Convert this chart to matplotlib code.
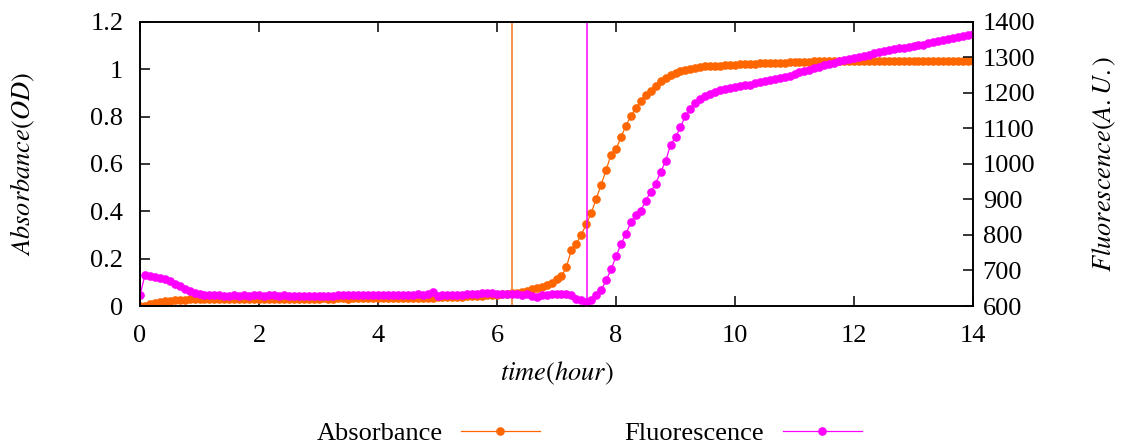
import numpy as np
import matplotlib
matplotlib.use("Agg")
import matplotlib.pyplot as plt

# readings every 5 minutes, 0 to 14 hours
interval_min = 5

absorbance = [
    0.002, 0.000, 0.008, 0.013, 0.017, 0.020, 0.022, 0.024, 0.026, 0.027, 0.028, 0.029,
    0.030, 0.030, 0.031, 0.030, 0.031, 0.031, 0.030, 0.031, 0.031, 0.031, 0.030, 0.031,
    0.031, 0.031, 0.030, 0.031, 0.031, 0.031, 0.030, 0.031, 0.031, 0.031, 0.031, 0.031,
    0.031, 0.032, 0.031, 0.031, 0.032, 0.032, 0.031, 0.032, 0.032, 0.032, 0.032, 0.032,
    0.033, 0.032, 0.033, 0.033, 0.033, 0.033, 0.033, 0.034, 0.034, 0.034, 0.034, 0.034,
    0.037, 0.038, 0.038, 0.039, 0.040, 0.040, 0.041, 0.042, 0.043, 0.044, 0.045, 0.046,
    0.047, 0.049, 0.051, 0.053, 0.056, 0.060, 0.065, 0.070, 0.076, 0.082, 0.089, 0.097,
    0.112, 0.125, 0.165, 0.238, 0.262, 0.302, 0.345, 0.393, 0.452, 0.513, 0.574, 0.640,
    0.662, 0.713, 0.762, 0.802, 0.837, 0.865, 0.890, 0.910, 0.930, 0.950, 0.965, 0.975,
    0.985, 0.992, 0.998, 1.002, 1.006, 1.009, 1.012, 1.014, 1.015, 1.016, 1.017, 1.018,
    1.020, 1.021, 1.022, 1.022, 1.024, 1.025, 1.026, 1.026, 1.027, 1.028, 1.028, 1.029,
    1.030, 1.031, 1.032, 1.033, 1.034, 1.034, 1.035, 1.035, 1.036, 1.035, 1.036, 1.035,
    1.035, 1.036, 1.035, 1.035, 1.036, 1.035, 1.035, 1.035, 1.036, 1.035, 1.035, 1.035,
    1.035, 1.035, 1.034, 1.035, 1.035, 1.035, 1.035, 1.034, 1.035, 1.035, 1.035, 1.035,
    1.035,
]

fluorescence = [
    630, 688, 684, 682, 679, 676, 670, 663, 655, 648, 642, 638,
    634, 632, 631, 630, 630, 629, 629, 630, 629, 630, 629, 630,
    630, 629, 630, 630, 629, 630, 629, 628, 629, 628, 629, 628,
    628, 629, 628, 628, 630, 630, 632, 630, 631, 630, 631, 631,
    632, 631, 632, 631, 630, 631, 632, 631, 634, 632, 633, 640,
    629, 632, 631, 632, 631, 632, 633, 634, 634, 636, 637, 636,
    634, 635, 634, 633, 634, 632, 633, 628, 624, 630, 632, 633,
    634, 635, 633, 630, 620, 616, 612, 618, 630, 645, 672, 703,
    740, 774, 803, 836, 856, 868, 897, 922, 945, 977, 1008, 1054,
    1075, 1104, 1135, 1154, 1171, 1182, 1192, 1198, 1204, 1208, 1211, 1214,
    1217, 1219, 1222, 1223, 1227, 1231, 1234, 1237, 1240, 1243, 1246, 1249,
    1253, 1258, 1262, 1266, 1270, 1274, 1278, 1282, 1285, 1289, 1293, 1296,
    1298, 1300, 1305, 1308, 1312, 1316, 1318, 1320, 1323, 1326, 1328, 1330,
    1332, 1334, 1336, 1340, 1344, 1346, 1348, 1352, 1354, 1358, 1361, 1364,
    1366,
]

# marker times (hours) for the two vertical lines
abs_onset = 6.26
fluo_onset = 7.52

time_h = np.arange(len(absorbance)) * interval_min / 60.0

plt.rcParams['font.family'] = ['Liberation Serif', 'DejaVu Serif']
plt.rcParams['mathtext.fontset'] = 'stix'
plt.rcParams['font.size'] = 19

orange = '#ff6600'
magenta = '#ff00ff'

fig = plt.figure(figsize=(11.22, 4.46), dpi=100)
ax = fig.add_axes([0.1248, 0.3139, 0.7424, 0.6368])
ax2 = ax.twinx()

l1, = ax.plot(time_h, absorbance, '-o', color=orange, ms=5.2, lw=0.9, label='Absorbance')
l2, = ax2.plot(time_h, fluorescence, '-o', color=magenta, ms=5.2, lw=0.9, label='Fluorescence')
ax.axvline(abs_onset, color='#f7883f', lw=1.3)
ax.axvline(fluo_onset, color=magenta, lw=1.1)

ax.set_xlim(0, 14)
ax.set_ylim(0, 1.2)
ax2.set_ylim(600, 1400)
ax.set_xticks(np.arange(0, 15, 2))
ax.set_yticks(np.arange(0, 1.21, 0.2))
ax.set_yticklabels(['0', '0.2', '0.4', '0.6', '0.8', '1', '1.2'])
ax2.set_yticks(np.arange(600, 1401, 100))

ax.tick_params(axis='x', direction='in', top=True, length=7, width=1.1, pad=14)
ax.tick_params(axis='y', direction='in', length=7, width=1.1, pad=12)
ax2.tick_params(axis='y', direction='in', length=7, width=1.1, pad=7)
for a in (ax, ax2):
    for s in a.spines.values():
        s.set_linewidth(1.2)

ax.set_xlabel('$time(hour)$')
ax.set_ylabel('$Absorbance(OD)$')
ax2.set_ylabel('$Fluorescence(A.U.)$')
ax.xaxis.set_label_coords(0.5, -0.19)
ax.yaxis.set_label_coords(-0.124, 0.5)
ax2.yaxis.set_label_coords(1.141, 0.5)

fig.legend([l1, l2], ['Absorbance', 'Fluorescence'], loc='lower center',
           bbox_to_anchor=(0.525, -0.052), ncol=2, frameon=False,
           markerfirst=False, handlelength=3.0, columnspacing=3.2,
           handletextpad=0.7)

fig.savefig('out.png', dpi=100)
